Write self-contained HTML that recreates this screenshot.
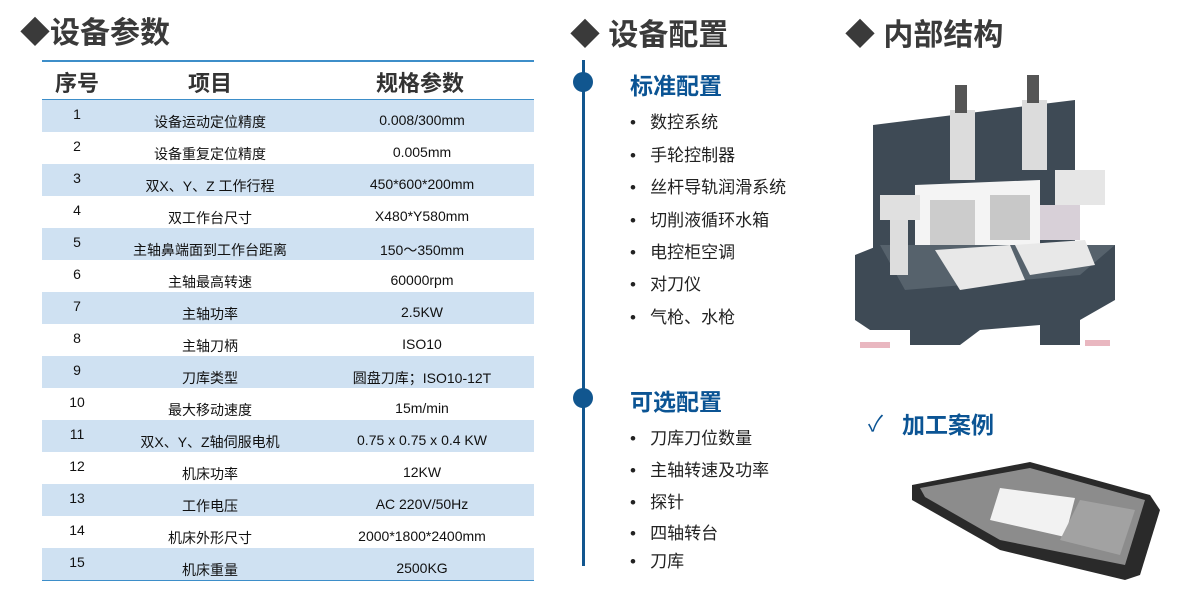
<!DOCTYPE html>
<html><head><meta charset="utf-8"><style>
*{margin:0;padding:0;box-sizing:border-box}
body{width:1201px;height:609px;background:#fff;position:relative;overflow:hidden;font-family:"Liberation Sans","Noto Sans CJK SC",sans-serif;color:#111}
.a{position:absolute;white-space:nowrap}
.h{font-size:30px;font-weight:bold;color:#3a3a3a}
.row{position:absolute;left:42px;width:492px;height:32px;font-size:14px}
.row.b{background:#cfe1f2}
.row span{position:absolute}
.n{left:0;width:70px;text-align:center;top:6px}
.i{left:40px;width:256px;text-align:center;top:12px}
.s{left:280px;width:200px;text-align:center;top:12px}
.li{font-size:17px;color:#222}
.sub{font-size:23px;font-weight:bold;color:#0b5494}
</style></head><body>
<div class="a h" style="left:20px;top:8px">◆设备参数</div>
<div class="a h" style="left:570px;top:10px">◆ 设备配置</div>
<div class="a h" style="left:845px;top:10px">◆ 内部结构</div>

<div class="a" style="left:42px;top:60px;width:492px;height:2px;background:#3d8ec9"></div>
<div class="a" style="left:42px;top:99px;width:492px;height:1px;background:#3d8ec9"></div>
<div class="a" style="left:42px;top:66px;width:70px;text-align:center;font-size:22px;font-weight:bold;color:#333">序号</div>
<div class="a" style="left:150px;top:66px;width:120px;text-align:center;font-size:22px;font-weight:bold;color:#333">项目</div>
<div class="a" style="left:350px;top:66px;width:140px;text-align:center;font-size:22px;font-weight:bold;color:#333">规格参数</div>

<div class="row b" style="top:100px"><span class="n">1</span><span class="i">设备运动定位精度</span><span class="s">0.008/300mm</span></div>
<div class="row" style="top:132px"><span class="n">2</span><span class="i">设备重复定位精度</span><span class="s">0.005mm</span></div>
<div class="row b" style="top:164px"><span class="n">3</span><span class="i">双X、Y、Z 工作行程</span><span class="s">450*600*200mm</span></div>
<div class="row" style="top:196px"><span class="n">4</span><span class="i">双工作台尺寸</span><span class="s">X480*Y580mm</span></div>
<div class="row b" style="top:228px"><span class="n">5</span><span class="i">主轴鼻端面到工作台距离</span><span class="s">150～350mm</span></div>
<div class="row" style="top:260px"><span class="n">6</span><span class="i">主轴最高转速</span><span class="s">60000rpm</span></div>
<div class="row b" style="top:292px"><span class="n">7</span><span class="i">主轴功率</span><span class="s">2.5KW</span></div>
<div class="row" style="top:324px"><span class="n">8</span><span class="i">主轴刀柄</span><span class="s">ISO10</span></div>
<div class="row b" style="top:356px"><span class="n">9</span><span class="i">刀库类型</span><span class="s">圆盘刀库；ISO10-12T</span></div>
<div class="row" style="top:388px"><span class="n">10</span><span class="i">最大移动速度</span><span class="s">15m/min</span></div>
<div class="row b" style="top:420px"><span class="n">11</span><span class="i">双X、Y、Z轴伺服电机</span><span class="s">0.75 x 0.75 x 0.4 KW</span></div>
<div class="row" style="top:452px"><span class="n">12</span><span class="i">机床功率</span><span class="s">12KW</span></div>
<div class="row b" style="top:484px"><span class="n">13</span><span class="i">工作电压</span><span class="s">AC 220V/50Hz</span></div>
<div class="row" style="top:516px"><span class="n">14</span><span class="i">机床外形尺寸</span><span class="s">2000*1800*2400mm</span></div>
<div class="row b" style="top:548px"><span class="n">15</span><span class="i">机床重量</span><span class="s">2500KG</span></div>
<div class="a" style="left:42px;top:580px;width:492px;height:1px;background:#3d8ec9"></div>

<div class="a" style="left:582px;top:60px;width:3px;height:506px;background:#11568f"></div>
<div class="a" style="left:573px;top:72px;width:20px;height:20px;border-radius:50%;background:#11568f"></div>
<div class="a" style="left:573px;top:388px;width:20px;height:20px;border-radius:50%;background:#11568f"></div>
<div class="a sub" style="left:630px;top:67px">标准配置</div>
<div class="a sub" style="left:630px;top:383px">可选配置</div>
<div class="a li" style="left:630px;top:108px">•&nbsp;&nbsp; 数控系统</div>
<div class="a li" style="left:630px;top:141px">•&nbsp;&nbsp; 手轮控制器</div>
<div class="a li" style="left:630px;top:173px">•&nbsp;&nbsp; 丝杆导轨润滑系统</div>
<div class="a li" style="left:630px;top:206px">•&nbsp;&nbsp; 切削液循环水箱</div>
<div class="a li" style="left:630px;top:238px">•&nbsp;&nbsp; 电控柜空调</div>
<div class="a li" style="left:630px;top:270px">•&nbsp;&nbsp; 对刀仪</div>
<div class="a li" style="left:630px;top:303px">•&nbsp;&nbsp; 气枪、水枪</div>
<div class="a li" style="left:630px;top:424px">•&nbsp;&nbsp; 刀库刀位数量</div>
<div class="a li" style="left:630px;top:456px">•&nbsp;&nbsp; 主轴转速及功率</div>
<div class="a li" style="left:630px;top:488px">•&nbsp;&nbsp; 探针</div>
<div class="a li" style="left:630px;top:519px">•&nbsp;&nbsp; 四轴转台</div>
<div class="a li" style="left:630px;top:547px">•&nbsp;&nbsp; 刀库</div>

<svg class="a" style="left:850px;top:70px" width="320" height="285" viewBox="850 70 320 285">
<polygon points="873,125 1075,100 1075,260 873,260" fill="#3e4a55"/>
<polygon points="915,185 1040,180 1040,260 915,260" fill="#f4f4f4"/>
<polygon points="855,255 880,245 1115,245 1115,300 1080,320 1080,345 1040,345 1040,325 980,330 960,345 910,345 910,330 870,330 855,320" fill="#3e4a55"/>
<polygon points="880,245 1115,245 1080,275 905,290" fill="#56626c"/>
<rect x="880" y="195" width="40" height="25" fill="#e0e0e0"/>
<rect x="890" y="220" width="18" height="55" fill="#ddd"/>
<rect x="930" y="200" width="45" height="45" fill="#ccc"/>
<rect x="990" y="195" width="40" height="45" fill="#c8c8c8"/>
<rect x="1040" y="205" width="40" height="35" fill="#d8d0d8"/>
<rect x="1055" y="170" width="50" height="35" fill="#e6e6e6"/>
<polygon points="935,250 1010,245 1025,280 960,290" fill="#e8e8e8"/>
<polygon points="1015,245 1085,240 1095,265 1030,275" fill="#e8e8e8"/>
<rect x="950" y="110" width="25" height="70" fill="#dcdcdc"/>
<rect x="955" y="85" width="12" height="28" fill="#555"/>
<rect x="1022" y="100" width="25" height="70" fill="#dcdcdc"/>
<rect x="1027" y="75" width="12" height="28" fill="#555"/>
<rect x="860" y="342" width="30" height="6" fill="#e9b7c0"/>
<rect x="1085" y="340" width="25" height="6" fill="#e9b7c0"/>
</svg>

<div class="a" style="left:868px;top:406px;font-size:22px;color:#0b5494">✓</div>
<div class="a sub" style="left:902px;top:406px">加工案例</div>
<svg class="a" style="left:900px;top:455px" width="270" height="140" viewBox="900 455 270 140">
<polygon points="912,485 1030,462 1150,495 1160,510 1140,575 1125,580 1000,550 912,500" fill="#2a2a2a"/>
<polygon points="920,488 1030,468 1145,500 1125,565 1000,540 925,497" fill="#8c8c8c"/>
<polygon points="1000,488 1075,498 1065,537 990,520" fill="#f2f2f2"/>
<polygon points="1080,500 1135,510 1120,555 1060,540" fill="#a2a2a2"/>
</svg>
</body></html>
